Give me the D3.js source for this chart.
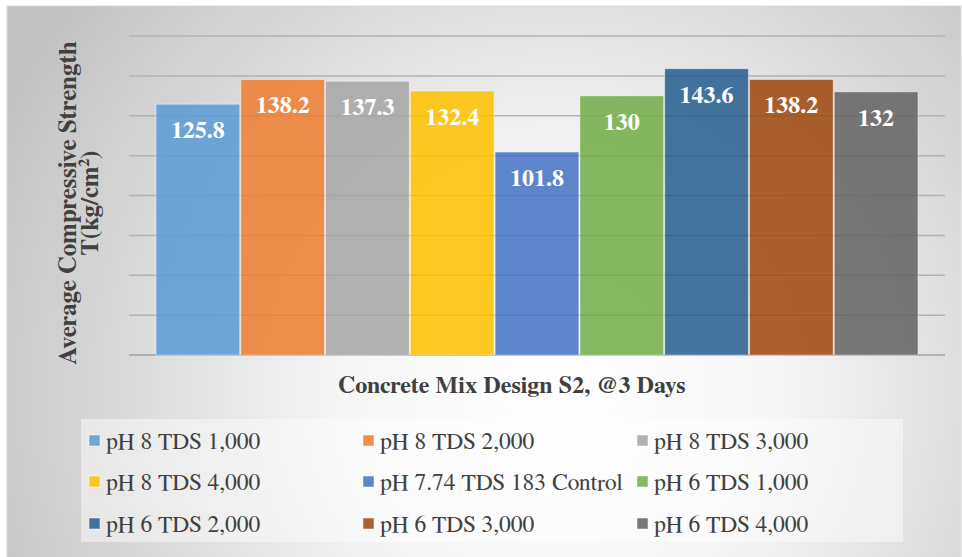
<!DOCTYPE html>
<html><head><meta charset="utf-8">
<script src="https://cdn.jsdelivr.net/npm/d3@7"></script>
<style>html,body{margin:0;padding:0;background:#fff;}svg{display:block;}</style>
</head><body>
<svg id="chart" width="962" height="557"></svg>
<script>
const seriesNames = ["pH 8 TDS 1,000","pH 8 TDS 2,000","pH 8 TDS 3,000","pH 8 TDS 4,000","pH 7.74 TDS 183 Control","pH 6 TDS 1,000","pH 6 TDS 2,000","pH 6 TDS 3,000","pH 6 TDS 4,000"];
const seriesValues = [125.8, 138.2, 137.3, 132.4, 101.8, 130, 143.6, 138.2, 132];
const seriesColors = ["#5B9BD5","#ED7D31","#A5A5A5","#FFC000","#4472C4","#70AD47","#255E91","#9E480E","#636363"];
const yTicks = [0,20,40,60,80,100,120,140,160];
const yTitle = ["Average Compressive Strength", "T(kg/cm²)"];
const xTitle = "Concrete Mix Design S2, @3 Days";

const FONT = "FreeSerif";
const svg = d3.select("#chart");
const defs = svg.append("defs");
const rg = defs.append("radialGradient").attr("id","bg").attr("gradientUnits","userSpaceOnUse")
  .attr("cx",560).attr("cy",390).attr("r",620);
rg.append("stop").attr("offset","0").attr("stop-color","#ffffff");
rg.append("stop").attr("offset","0.35").attr("stop-color","#f6f6f6");
rg.append("stop").attr("offset","1").attr("stop-color","#c2c2c2");

svg.append("rect").attr("x",7).attr("y",6).attr("width",954).attr("height",560)
  .attr("fill","url(#bg)").attr("stroke","#d9d9d9").attr("stroke-width",1);

const y = d3.scaleLinear().domain([0,160]).range([355,36]);
const x = d3.scaleBand().domain(seriesNames).range([156,918]).paddingInner(0.012);

svg.append("g").selectAll("line").data(yTicks).join("line")
  .attr("x1",129).attr("x2",945)
  .attr("y1",d=>y(d)).attr("y2",d=>y(d))
  .attr("stroke",d=>d===0?"#a0a0a0":"#b3b3b3").attr("stroke-width",1.5);

svg.append("g").selectAll("rect").data(seriesValues).join("rect")
  .attr("x",(d,i)=>x(seriesNames[i]))
  .attr("y",d=>y(d))
  .attr("width",x.bandwidth())
  .attr("height",d=>y(0)-y(d))
  .attr("fill",(d,i)=>seriesColors[i]).attr("fill-opacity",0.86)
  .attr("stroke","#ffffff").attr("stroke-opacity",0.45).attr("stroke-width",1);

svg.append("g").selectAll("text").data(seriesValues).join("text")
  .attr("x",(d,i)=>x(seriesNames[i])+x.bandwidth()/2)
  .attr("y",d=>y(d)+34)
  .attr("text-anchor","middle")
  .style("font-family",FONT)
  .style("font-weight","bold").style("font-size","24px").attr("fill","#ffffff")
  .text(d=>String(d));

const yt = svg.append("text").attr("transform","translate(0,203) rotate(-90)")
  .attr("text-anchor","middle")
  .style("font-family",FONT)
  .style("font-weight","bold").style("font-size","25px").attr("fill","#404040");
yt.append("tspan").attr("x",0).attr("y",76).text(yTitle[0]);
yt.append("tspan").attr("x",0).attr("y",98).text(yTitle[1]);

svg.append("text").attr("x",512).attr("y",393).attr("text-anchor","middle")
  .style("font-family",FONT)
  .style("font-weight","bold").style("font-size","24px").attr("fill","#404040")
  .text(xTitle);

svg.append("rect").attr("x",81).attr("y",419).attr("width",822).attr("height",123)
  .attr("fill","#ffffff").attr("fill-opacity",0.45);
const colX = [89,363,637];
const rowY = [441,482,524];
const lg = svg.append("g").selectAll("g").data(seriesNames).join("g")
  .attr("transform",(d,i)=>`translate(${colX[i%3]},${rowY[Math.floor(i/3)]})`);
lg.append("rect").attr("x",0).attr("y",-6).attr("width",11).attr("height",11)
  .attr("fill",(d,i)=>seriesColors[i]).attr("fill-opacity",0.86)
  .attr("stroke","#ffffff").attr("stroke-opacity",0.5).attr("stroke-width",1);
lg.append("text").attr("x",17).attr("y",8)
  .style("font-family",FONT)
  .style("font-size","23.5px").attr("fill","#404040")
  .text(d=>d);
</script>
</body></html>
